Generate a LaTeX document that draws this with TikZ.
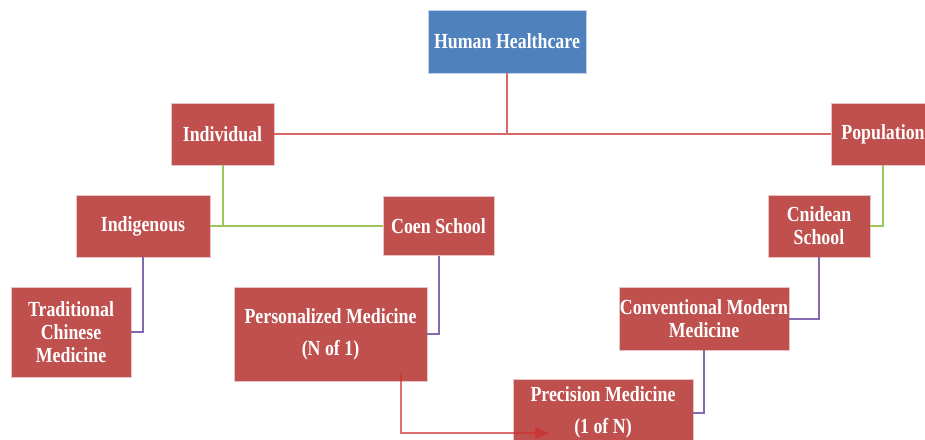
\documentclass[tikz,border=0pt]{standalone}
\usepackage{fontspec}
\setmainfont[FakeStretch=0.83]{Liberation Serif}
\usetikzlibrary{arrows.meta}
\definecolor{boxred}{RGB}{192,80,77}
\definecolor{boxblue}{RGB}{79,129,189}
\definecolor{edgered}{RGB}{232,196,196}
\definecolor{edgeblue}{RGB}{190,210,235}
\definecolor{linkred}{RGB}{214,104,104}
\definecolor{arrowred}{RGB}{205,50,50}
\definecolor{linkgreen}{RGB}{155,197,89}
\definecolor{linkpurple}{RGB}{132,104,176}
\begin{document}
\begin{tikzpicture}[x=1pt,y=-1pt,
  box/.style={rectangle, fill=boxred, draw=edgered, line width=0.8pt,
    text=white, font=\fontsize{21.5}{23}\selectfont\bfseries,
    align=center, inner sep=0pt},
  topbox/.style={box, fill=boxblue, draw=edgeblue},
  redlink/.style={draw=linkred, line width=2pt},
  greenlink/.style={draw=linkgreen, line width=2pt},
  purplelink/.style={draw=linkpurple, line width=2pt},
  flowarrow/.style={draw=arrowred, opacity=0.7, line width=2pt,
    -{Triangle[length=14pt,width=12pt]}}]
\useasboundingbox (0,0) rectangle (925,439);

% boxes
\node[topbox, minimum width=158, minimum height=63] (hh) at (507,41.5) {Human Healthcare};
\node[box, minimum width=103, minimum height=62] (ind) at (222.5,134) {Individual};
\node[box, minimum width=104, minimum height=62] (pop) at (883,134) {Population};
\node[box, minimum width=134, minimum height=62] (indig) at (143,226) {Indigenous};
\node[box, minimum width=111, minimum height=59] (coen) at (438.5,226) {Coen School};
\node[box, minimum width=102, minimum height=62] (cni) at (819,226) {Cnidean\\School};
\node[box, minimum width=120, minimum height=90] (tcm) at (71,332) {Traditional\\Chinese\\Medicine};
\node[box, minimum width=193, minimum height=94] (pers) at (330.5,334) {Personalized Medicine\\[9pt](N of 1)};
\node[box, minimum width=170, minimum height=63] (conv) at (704,318.5) {Conventional Modern\\Medicine};
\node[box, minimum width=180, minimum height=94] (prec) at (603,426) {};
\node[text=white, font=\fontsize{21.5}{23}\selectfont\bfseries, align=center, inner sep=0pt]
  (prectext) at (603,412.5) {Precision Medicine\\[9pt](1 of N)};

% connectors
\coordinate (hub) at (hh.south |- ind.east);
\draw[redlink] (hh.south) -- (hub);
\draw[redlink] (ind.east) -- (pop.west);
\draw[greenlink] (ind.south) |- (indig.east);
\draw[greenlink] (indig.east) -- (coen.west);
\draw[greenlink] (pop.south) |- (cni.east);
\draw[purplelink] (indig.south) |- (tcm.east);
\draw[purplelink] (coen.south) |- (pers.east);
\draw[purplelink] (cni.south) |- (conv.east);
\draw[purplelink] (conv.south) |- (prec.east |- prectext.center);

% arrow from personalized to precision medicine
\coordinate (fromP) at (401,373);
\coordinate (toP) at (549,433);
\draw[flowarrow] (fromP) |- (toP);
\end{tikzpicture}
\end{document}
